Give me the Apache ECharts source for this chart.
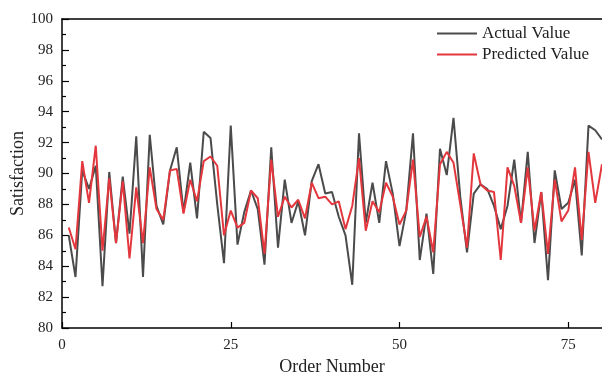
<!DOCTYPE html>
<html>
<head>
<meta charset="utf-8">
<script src="https://cdn.jsdelivr.net/npm/echarts@6/dist/echarts.min.js"></script>
<style>
  html, body { margin: 0; padding: 0; background: #fff; }
  #chart { width: 602px; height: 374px; }
</style>
</head>
<body>
<div id="chart"></div>
<script>
// values, order number 1..80
const actualValue = [
  86.0, 83.3, 90.2, 89.0, 90.5, 82.7, 90.1, 85.5, 89.8, 86.1,
  92.4, 83.3, 92.5, 87.9, 86.7, 90.2, 91.7, 87.5, 90.7, 87.1,
  92.7, 92.3, 88.0, 84.2, 93.1, 85.4, 87.5, 88.9, 87.7, 84.1,
  91.7, 85.2, 89.6, 86.8, 88.2, 86.0, 89.5, 90.6, 88.7, 88.8,
  87.2, 86.0, 82.8, 92.6, 86.8, 89.4, 86.8, 90.8, 88.7, 85.3,
  87.6, 92.6, 84.4, 87.4, 83.5, 91.6, 89.9, 93.6, 88.5, 84.9,
  88.7, 89.3, 89.0, 87.9, 86.4, 87.9, 90.9, 86.8, 91.4, 85.5,
  88.8, 83.1, 90.2, 87.7, 88.1, 89.6, 84.7, 93.1, 92.8, 92.2
];
const predictedValue = [
  86.5, 85.1, 90.8, 88.1, 91.8, 85.0, 89.7, 85.5, 89.5, 84.5,
  89.1, 85.5, 90.4, 87.7, 87.0, 90.2, 90.3, 87.4, 89.6, 88.2,
  90.8, 91.1, 90.5, 86.0, 87.6, 86.5, 86.8, 88.9, 88.4, 84.8,
  90.9, 87.2, 88.5, 87.8, 88.3, 87.1, 89.4, 88.4, 88.5, 88.0,
  88.2, 86.4, 87.9, 91.0, 86.3, 88.2, 87.5, 89.4, 88.5, 86.7,
  87.6, 90.9, 85.9, 87.2, 84.9, 90.6, 91.4, 90.7, 88.0, 85.2,
  91.3, 89.3, 88.9, 88.8, 84.4, 90.4, 89.2, 86.8, 90.4, 86.3,
  88.8, 84.8, 89.6, 86.9, 87.6, 90.4, 85.7, 91.4, 88.1, 90.6
];
const seriesNames = ['Actual Value', 'Predicted Value'];
const colors = ['#4b4b4b', '#e3373d'];

const font = 'Liberation Serif, Times New Roman, serif';
const textColor = '#222';

const toPairs = arr => arr.map((v, i) => [i + 1, v]);

const chart = echarts.init(document.getElementById('chart'), null, { renderer: 'canvas' });

const option = {
  animation: false,
  backgroundColor: '#fff',
  textStyle: { fontFamily: font },
  grid: { left: 62, right: 0, top: 19, bottom: 46, containLabel: false, outerBoundsMode: 'none' },
  legend: {
    orient: 'vertical',
    left: 432,
    top: 18,
    itemWidth: 40,
    itemHeight: 2,
    itemGap: 0,
    icon: 'rect',
    data: seriesNames,
    textStyle: { fontFamily: font, fontSize: 17, color: textColor, lineHeight: 21 }
  },
  xAxis: [
    {
      type: 'value',
      min: 0,
      max: 80,
      interval: 25,
      name: 'Order Number',
      nameLocation: 'middle',
      nameGap: 30,
      nameMoveOverlap: false,
      nameTextStyle: { fontFamily: font, fontSize: 18, color: textColor },
      axisLine: { show: true, lineStyle: { color: '#000', width: 1.5 } },
      axisTick: { show: true, inside: true, length: 6, lineStyle: { color: '#000', width: 1.2 } },
      axisLabel: { fontFamily: font, fontSize: 15, color: textColor, margin: 10, showMaxLabel: false },
      splitLine: { show: false }
    },
    {
      type: 'value',
      position: 'top',
      min: 0,
      max: 80,
      axisLine: { show: true, onZero: false, lineStyle: { color: '#000', width: 1.5 } },
      axisTick: { show: false },
      axisLabel: { show: false },
      splitLine: { show: false }
    }
  ],
  yAxis: {
    type: 'value',
    min: 80,
    max: 100,
    interval: 2,
    name: 'Satisfaction',
    nameLocation: 'middle',
    nameGap: 35,
    nameMoveOverlap: false,
    nameTextStyle: { fontFamily: font, fontSize: 18, color: textColor },
    axisLine: { show: true, lineStyle: { color: '#000', width: 1.5 } },
    axisTick: { show: true, inside: true, length: 7, lineStyle: { color: '#000', width: 1.2 } },
    minorTick: { show: true, splitNumber: 2, length: 4, lineStyle: { color: '#000', width: 1.2 } },
    axisLabel: { fontFamily: font, fontSize: 15, color: textColor, margin: 9 },
    splitLine: { show: false }
  },
  series: [
    {
      name: seriesNames[0],
      type: 'line',
      data: toPairs(actualValue),
      symbol: 'none',
      color: colors[0],
      lineStyle: { width: 2, color: colors[0] },
      z: 2
    },
    {
      name: seriesNames[1],
      type: 'line',
      data: toPairs(predictedValue),
      symbol: 'none',
      color: colors[1],
      lineStyle: { width: 2, color: colors[1] },
      z: 3
    }
  ]
};

chart.setOption(option);
</script>
</body>
</html>
